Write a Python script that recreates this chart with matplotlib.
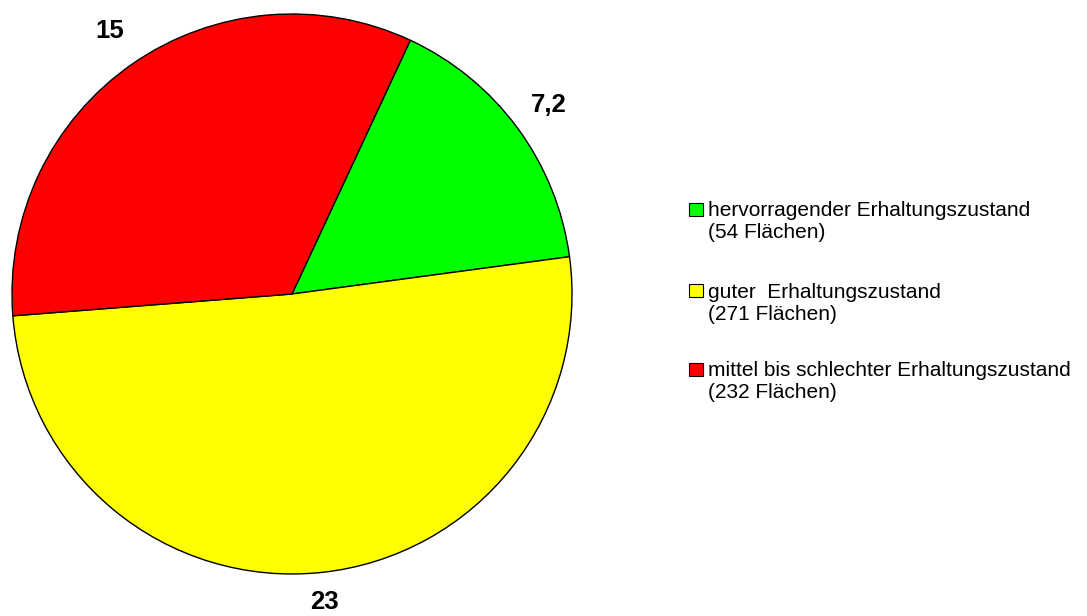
import numpy as np
import matplotlib.pyplot as plt
from matplotlib.patches import Rectangle

plt.rcParams['font.family'] = ['Liberation Sans', 'DejaVu Sans']

# data
values = [7.2, 23, 15]
value_labels = ['7,2', '23', '15']
colors = ['#00ff00', '#ffff00', '#ff0000']
legend_labels = ['hervorragender Erhaltungszustand', 'guter  Erhaltungszustand',
                 'mittel bis schlechter Erhaltungszustand']
counts = ['(54 Flächen)', '(271 Flächen)', '(232 Flächen)']

W, H = 1087, 616
fig = plt.figure(figsize=(W / 100, H / 100), dpi=100)

# pie axes: centre at (292, 294) px, radius 280 px
r = 280
ax = fig.add_axes([(292 - r) / W, (H - 294 - r) / H, 2 * r / W, 2 * r / H])
wedges, _ = ax.pie(values, colors=colors, startangle=65, counterclock=False,
                   wedgeprops=dict(edgecolor='black', linewidth=1))
ax.set_xlim(-1, 1)
ax.set_ylim(-1, 1)
ax.set_aspect('equal')

# value labels outside each wedge
label_dist = [1.14, 1.105, 1.145]
for w, lab, d in zip(wedges, value_labels, label_dist):
    ang = np.deg2rad((w.theta1 + w.theta2) / 2)
    ax.text(d * np.cos(ang), d * np.sin(ang), lab, fontsize=18.5,
            fontweight='bold', ha='center', va='center', clip_on=False)

# legend, drawn by hand
box_tops = [203, 284, 363]
for col, lab, cnt, top in zip(colors, legend_labels, counts, box_tops):
    fig.patches.append(Rectangle((689 / W, 1 - (top + 13) / H), 14 / W, 13 / H,
                                 transform=fig.transFigure, facecolor=col,
                                 edgecolor='black', linewidth=0.8))
    fig.text(708 / W, 1 - (top + 8) / H, lab, fontsize=15, va='center', ha='left')
    fig.text(708 / W, 1 - (top + 30) / H, cnt, fontsize=15, va='center', ha='left')

fig.savefig('out.png', dpi=100)
